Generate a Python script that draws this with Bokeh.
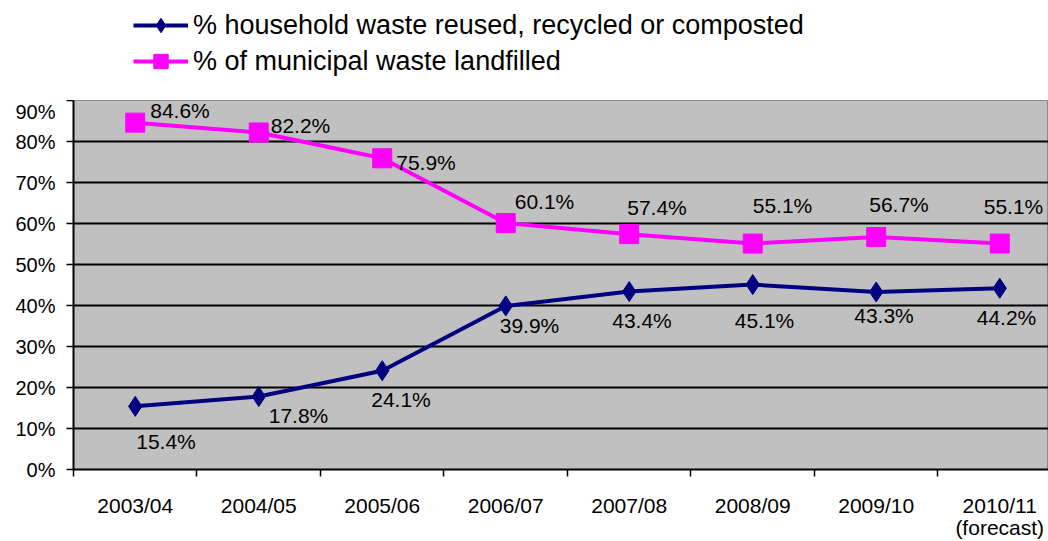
from bokeh.plotting import figure
from bokeh.models import (ColumnDataSource, Range1d, FixedTicker, Legend, LegendItem,
                          LinearAxis)
from bokeh.layouts import column
from bokeh.embed import file_html
from bokeh.resources import INLINE

# ---- data ----
years = ["2003/04", "2004/05", "2005/06", "2006/07", "2007/08", "2008/09", "2009/10",
         "2010/11"]
year_notes = ["", "", "", "", "", "", "", "(forecast)"]
recycled = [15.4, 17.8, 24.1, 39.9, 43.4, 45.1, 43.3, 44.2]
landfilled = [84.6, 82.2, 75.9, 60.1, 57.4, 55.1, 56.7, 55.1]
series_names = ["% household waste reused, recycled or composted",
                "% of municipal waste landfilled"]
y_ticks = [0, 10, 20, 30, 40, 50, 60, 70, 80, 90]

# label placement (pixel offsets, style only)
rec_dx = [1, 10, -11, -6, -17, -18, -22, -23]
rec_dy = [35, 19, 29, 20, 29, 36, 24, 29]
land_dx = [15, 12, 14, 9, -2, 0, -7, -16]
land_dy = [-12, -7, 4, -22, -27, -38, -33, -37]

FONT = "Liberation Sans"
NAVY = "#000080"
MAGENTA = "#FF00FF"
NAN = float("nan")

xs = [i + 0.5 for i in range(len(years))]

src_r = ColumnDataSource(dict(x=xs, y=recycled,
                              lab=[f"{v:.1f}%" for v in recycled],
                              dx=rec_dx, dy=rec_dy))
src_l = ColumnDataSource(dict(x=xs, y=landfilled,
                              lab=[f"{v:.1f}%" for v in landfilled],
                              dx=land_dx, dy=land_dy))

p = figure(width=1048, height=441, output_backend="svg", toolbar_location=None,
           x_range=Range1d(0, 7.895), y_range=Range1d(0, 90),
           min_border_left=73, min_border_right=0, min_border_top=0,
           min_border_bottom=70)
p.background_fill_color = "#C0C0C0"
p.border_fill_color = "white"
p.outline_line_color = "#8a8a8a"
p.outline_line_width = 1

# grid
p.xgrid.visible = False
p.ygrid.ticker = FixedTicker(ticks=y_ticks[1:-1])
p.ygrid.grid_line_color = "black"
p.ygrid.grid_line_width = 2

# y axis
p.yaxis.ticker = FixedTicker(ticks=y_ticks)
p.yaxis.major_label_overrides = {t: f"{t}%" for t in y_ticks}
p.yaxis.axis_line_color = "black"
p.yaxis.axis_line_width = 2
p.yaxis.major_tick_out = 7
p.yaxis.major_tick_in = 0
p.yaxis.major_tick_line_width = 1.5
p.yaxis.minor_tick_line_color = None
p.yaxis.major_label_standoff = 11
p.yaxis.major_label_text_font = FONT
p.yaxis.major_label_text_font_size = "20px"
p.yaxis.major_label_text_color = "black"

# x axis: labels at category centres, ticks at boundaries
xa = p.xaxis[0]
xa.ticker = FixedTicker(ticks=xs, minor_ticks=list(range(len(years) + 1)))
xa.major_label_overrides = {x: y for x, y in zip(xs, years)}
xa.axis_line_color = "black"
xa.axis_line_width = 2
xa.major_tick_out = 0
xa.major_tick_in = 0
xa.minor_tick_out = 7
xa.minor_tick_in = 0
xa.minor_tick_line_color = "black"
xa.minor_tick_line_width = 1.5
xa.major_label_standoff = 17
xa.major_label_text_font = FONT
xa.major_label_text_font_size = "21px"
xa.major_label_text_color = "black"

# second row of category text ("(forecast)")
note_x = [x for x, n in zip(xs, year_notes) if n]
xa2 = LinearAxis(ticker=FixedTicker(ticks=note_x),
                 major_label_overrides={x: n for x, n in zip(xs, year_notes) if n})
xa2.axis_line_color = None
xa2.major_tick_line_color = None
xa2.minor_tick_line_color = None
xa2.major_tick_out = 0
xa2.major_tick_in = 0
xa2.major_label_standoff = -4
xa2.major_label_text_font = FONT
xa2.major_label_text_font_size = "21px"
xa2.major_label_text_color = "black"
p.add_layout(xa2, "below")

# series
p.line("x", "y", source=src_r, line_color=NAVY, line_width=4)
p.scatter("x", "y", source=src_r, marker="diamond", size=20,
          fill_color=NAVY, line_color=NAVY)
p.line("x", "y", source=src_l, line_color=MAGENTA, line_width=4)
p.scatter("x", "y", source=src_l, marker="square", size=19,
          fill_color=MAGENTA, line_color=MAGENTA)

for s in (src_r, src_l):
    p.text("x", "y", text="lab", source=s, x_offset="dx", y_offset="dy",
           text_align="left", text_baseline="middle", text_font_size="21px",
           text_font={"value": FONT}, text_color="black")

# ---- legend strip above the chart ----
lg = figure(width=1048, height=100, output_backend="svg", toolbar_location=None,
            x_range=Range1d(0, 1), y_range=Range1d(0, 1),
            min_border=0, x_axis_type=None, y_axis_type=None)
lg.outline_line_color = None
lg.grid.visible = False
lg.background_fill_color = "white"
lr = lg.line(x=[NAN], y=[NAN], line_color=NAVY, line_width=4)
sr = lg.scatter(x=[NAN], y=[NAN], marker="diamond", size=20, fill_color=NAVY, line_color=NAVY)
ll = lg.line(x=[NAN], y=[NAN], line_color=MAGENTA, line_width=4)
sl = lg.scatter(x=[NAN], y=[NAN], marker="square", size=19, fill_color=MAGENTA,
                line_color=MAGENTA)

legend = Legend(items=[
    LegendItem(label=series_names[0], renderers=[lr, sr]),
    LegendItem(label=series_names[1], renderers=[ll, sl]),
], location=(60, 21), orientation="vertical")
legend.padding = 5
legend.margin = 0
legend.spacing = 0
legend.glyph_width = 55
legend.glyph_height = 36
legend.label_height = 36
legend.label_standoff = 5
legend.label_text_font = FONT
legend.label_text_font_size = "27px"
legend.label_text_color = "black"
legend.background_fill_alpha = 0
legend.border_line_color = None
lg.add_layout(legend, "center")

layout = column(lg, p, spacing=0)
open("out.html", "w").write(file_html(layout, INLINE))
